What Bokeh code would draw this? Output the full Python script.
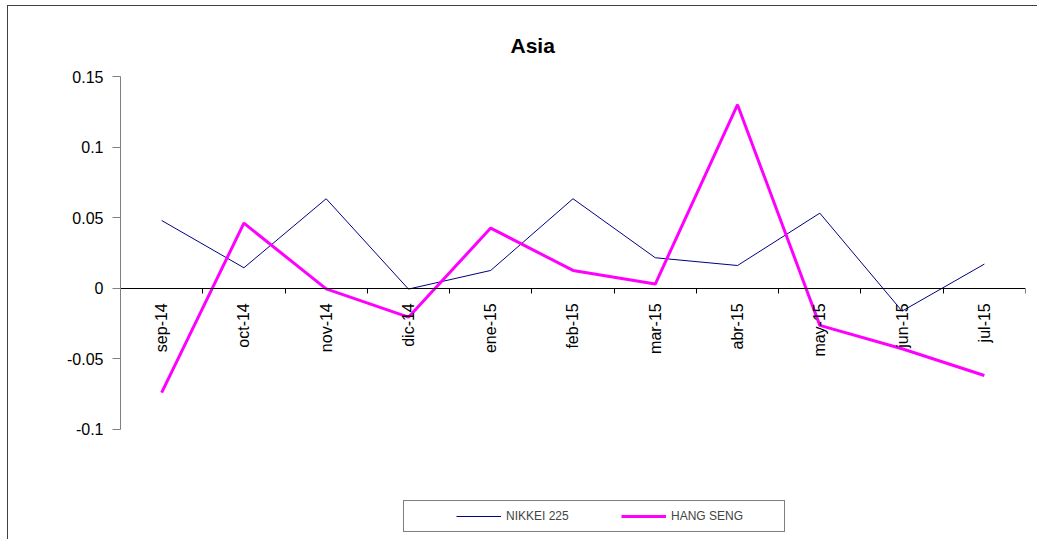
import math
from bokeh.plotting import figure
from bokeh.models import (Legend, LegendItem, Range1d, FixedTicker,
                          LinearAxis, Title, ColumnDataSource)
from bokeh.embed import file_html
from bokeh.resources import INLINE

# ---- data ----
months = ["sep-14", "oct-14", "nov-14", "dic-14", "ene-15", "feb-15",
          "mar-15", "abr-15", "may-15", "jun-15", "jul-15"]
nikkei = [0.048, 0.0145, 0.0634, -0.0006, 0.0126, 0.0634,
          0.0216, 0.0161, 0.0532, -0.0162, 0.0171]
hang_seng = [-0.074, 0.0461, -0.0005, -0.0205, 0.0426, 0.0126,
             0.003, 0.130, -0.0263, -0.0429, -0.0618]
series_names = ["NIKKEI 225", "HANG SENG"]
y_ticks = [-0.1, -0.05, 0.0, 0.05, 0.1, 0.15]
y_labels = ["-0.1", "-0.05", "0", "0.05", "0.1", "0.15"]

FONT = "Liberation Sans"

n = len(months)
centers = [i + 0.5 for i in range(n)]          # category slots on the x scale
source = ColumnDataSource(dict(x=centers, month=months, nikkei=nikkei, hang=hang_seng))

# frame extends below the axis so the legend sits inside the drawing area
p = figure(x_range=Range1d(0, n), y_range=Range1d(-0.178, 0.15),
           frame_width=905, frame_height=463,
           min_border_left=112, min_border_top=70,
           min_border_right=12, min_border_bottom=0,
           x_axis_location=None, y_axis_location=None,
           output_backend="svg", toolbar_location=None,
           background_fill_color="white", border_fill_color="white",
           styles={"margin-left": "7px", "margin-top": "5px",
                   "border-left": "1px solid #404040", "border-top": "1px solid #404040"})
p.outline_line_color = None
p.xgrid.visible = False
p.ygrid.visible = False

p.title = Title(text="Asia", align="left", offset=390, standoff=39,
                text_font=FONT, text_font_size="21px", text_font_style="bold",
                text_color="black")

# y axis
yax = LinearAxis(ticker=FixedTicker(ticks=y_ticks), bounds=(-0.1, 0.15),
                 major_label_overrides=dict(zip(y_ticks, y_labels)),
                 axis_line_color="#808080", major_tick_line_color="#808080",
                 major_tick_out=8, major_tick_in=0, minor_tick_line_color=None,
                 major_label_standoff=9, major_label_text_font=FONT,
                 major_label_text_font_size="16px", major_label_text_color="black")
p.add_layout(yax, "left")

# x axis line with ticks between categories
bax = LinearAxis(fixed_location=0,
                 ticker=FixedTicker(ticks=list(range(1, n + 1))),
                 axis_line_color="black", major_tick_line_color="black",
                 major_tick_out=5, major_tick_in=0, minor_tick_line_color=None,
                 major_label_text_color=None, major_label_text_font_size="1px")
p.add_layout(bax, "below")

# x axis labels at category centres
xax = LinearAxis(fixed_location=0, ticker=FixedTicker(ticks=centers),
                 major_label_overrides=dict(zip(centers, months)),
                 axis_line_color=None, major_tick_line_color=None,
                 minor_tick_line_color=None,
                 major_label_orientation=math.pi / 2,
                 major_label_standoff=9, major_label_text_font=FONT,
                 major_label_text_font_size="16px",
                 major_label_text_color="black")
p.add_layout(xax, "below")

r1 = p.line("x", "nikkei", source=source, line_color="#000080", line_width=1)
r2 = p.line("x", "hang", source=source, line_color="#FF00FF", line_width=3)

legend = Legend(items=[LegendItem(label=series_names[0], renderers=[r1]),
                       LegendItem(label=series_names[1], renderers=[r2])],
                orientation="horizontal", location=(283, 7),
                border_line_color="black", border_line_width=1,
                background_fill_color="white", background_fill_alpha=1,
                padding=8, margin=0, glyph_width=45, glyph_height=14,
                label_standoff=5, spacing=10, label_width=105,
                label_text_font=FONT, label_text_font_size="12px",
                title=" ", title_location="left", title_standoff=32,
                title_text_font_size="11px")
p.add_layout(legend, "center")

open("out.html", "w").write(file_html(p, INLINE))
